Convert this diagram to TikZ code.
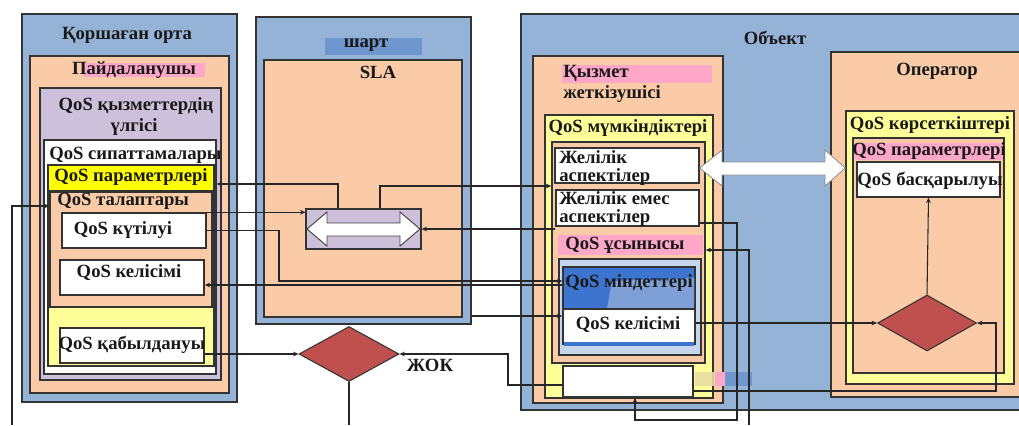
\documentclass[tikz,border=0pt]{standalone}
\usepackage{fontspec}
\setmainfont{Liberation Serif}
\usetikzlibrary{shapes.geometric,arrows.meta,fit}
\definecolor{bl}{HTML}{95B3D7}
\definecolor{pe}{HTML}{FACBA6}
\definecolor{lav}{HTML}{CCC0DA}
\definecolor{ly}{HTML}{FFFF99}
\definecolor{yy}{HTML}{FFFF00}
\definecolor{pk}{HTML}{FFA7C8}
\definecolor{rd}{HTML}{C0504D}
\definecolor{lb}{HTML}{C6D6EC}
\definecolor{db}{HTML}{3C74CF}
\definecolor{mb}{HTML}{7FA0D6}
\definecolor{hb}{HTML}{6F96CD}
\definecolor{kh}{HTML}{E6DDA0}
\begin{document}
\begin{tikzpicture}[x=0.75pt,y=-0.75pt,
  box/.style={draw=black!80,line width=1.1pt,inner sep=0pt},
  hl/.style={draw=none,inner sep=0pt},
  lbl/.style={font=\fontsize{14}{16}\selectfont\bfseries,inner sep=0pt,text=black!90},
  lbll/.style={lbl,anchor=west},
  reg/.style={lbl,anchor=west},
  conn/.style={draw=black!85,line width=0.8pt,-{Stealth[length=4pt,width=3.5pt]}},
  plain/.style={draw=black!85,line width=0.8pt},
  dia/.style={diamond,draw=black!80,fill=rd,line width=0.8pt,inner sep=0pt}]
\clip (0,0) rectangle (1019,425);
\fill[white] (0,0) rectangle (1019,425);

% ---------- left column
\node[box,fill=bl,fit={(22,14)(237,402)}] (env) {};
\node[lbl] (tenv) at (127,35) {Қоршаған орта};
\node[box,fill=pe,fit={(30,56)(229,393)}] (user) {};
\node[hl,fill=pk,fit={(83,63)(205,77)}] (huser) {};
\node[lbl] (tuser) at (134,70) {Пайдаланушы};
\node[box,fill=lav,fit={(40,88)(221,380)}] (model) {};
\node[lbl] (tmodel1) at (136,106) {QoS қызметтердің};
\node[lbl] (tmodel2) at (134,127) {үлгісі};
\node[box,fill=white,fit={(44,140)(216,374)}] (char) {};
\node[lbll] (tchar) at (49,155) {QoS сипаттамалары};
\node[box,fill=ly,fit={(48,165)(214,366)}] (param) {};
\node[box,fill=yy,fit={(48,165)(214,191)}] (paramh) {};
\node[lbl] (tparam) at (131,177) {QoS параметрлері};
\node[box,fill=pe,fit={(50,192)(212,307)}] (req) {};
\node[lbll] (treq) at (57,201) {QoS талаптары};
\node[box,fill=white,fit={(62,213)(206,248)}] (expect) {};
\node[lbl] (texpect) at (123,230) {QoS күтілуі};
\node[box,fill=white,fit={(60,260)(204,295)}] (agree) {};
\node[lbl] (tagree) at (129,273) {QoS келісімі};
\node[box,fill=white,fit={(60,328)(204,363)}] (accept) {};
\node[lbl] (taccept) at (132,345) {QoS қабылдануы};

% ---------- middle column
\node[box,fill=bl,fit={(256,17)(471,324)}] (contract) {};
\node[hl,fill=hb,fit={(325,38)(422,55)}] (hcontract) {};
\node[lbl] (tcontract) at (366,45) {шарт};
\node[box,fill=pe,fit={(264,60)(462,317)}] (sla) {};
\node[lbl] (tsla) at (378,72) {SLA};
\node[box,fill=lav,line width=0.9pt,fit={(306,209)(421,249)}] (xbox) {};
\draw[fill=white,draw=black!75,line width=0.7pt]
  (307,229) -- (327,212) -- (327,223) -- (400,223) -- (400,212) -- (420,229)
  -- (400,246) -- (400,236) -- (327,236) -- (327,246) -- cycle;
\node[dia,minimum width=100*0.75pt,minimum height=55*0.75pt] (dia1) at (349,354) {};
\node[lbl] (tno) at (430,365) {ЖОК};

% ---------- right: object
\node[box,fill=bl,fit={(521,14)(1040,410)}] (obj) {};
\node[lbl] (tobj) at (775,38) {Объект};
\node[box,fill=pe,fit={(533,56)(723,403)}] (prov) {};
\node[hl,fill=pk,fit={(562,65)(712,83)}] (hprov) {};
\node[lbll] (tprov1) at (563,73) {Қызмет};
\node[lbll] (tprov2) at (563,94) {жеткізушісі};
\node[box,fill=ly,fit={(545,115)(713,398)}] (cap) {};
\node[lbl] (tcap) at (628,128) {QoS мүмкіндіктері};
\node[box,fill=pe,fit={(552,142)(705,363)}] (capin) {};
\node[box,fill=white,fit={(555,148)(699,183)}] (net) {};
\node[reg] (tnet1) at (559,157) {Желілік};
\node[reg] (tnet2) at (559,177) {аспектілер};
\node[box,fill=white,fit={(556,190)(699,226)}] (nonnet) {};
\node[reg] (tnon1) at (559,198) {Желілік емес};
\node[reg] (tnon2) at (559,218) {аспектілер};
\node[hl,fill=pk,fit={(558,235)(703,255)}] (offer) {};
\node[lbll] (toffer) at (565,245) {QoS ұсынысы};
\node[box,fill=lb,fit={(559,259)(701,355)}] (obout) {};
\node[box,fill=db,fit={(563,267)(695,309)}] (oblig) {};
\fill[mb] (607,308) -- (612,281) -- (694,278) -- (694,308) -- cycle;
\node[lbl] (toblig) at (629,283) {QoS міндеттері};
\node[box,fill=white,fit={(563,309)(695,344)}] (agree2) {};
\fill[db] (564,342) rectangle (694,346);
\node[lbl] (tagree2) at (628,325) {QoS келісімі};
\node[box,fill=white,fit={(563,366)(693,397)}] (empty) {};
\fill[kh,opacity=0.9] (695,372) rectangle (715,386);
\fill[pk] (715,372) rectangle (725,386);
\fill[hb] (725,372) rectangle (752,386);

\node[box,fill=pe,fit={(831,52)(1040,397)}] (op) {};
\node[lbl] (top) at (937,71) {Оператор};
\node[box,fill=ly,fit={(846,111)(1014,384)}] (ind) {};
\node[lbl] (tind) at (930,125) {QoS көрсеткіштері};
\node[box,fill=pe,fit={(853,138)(1004,373)}] (opparam) {};
\node[hl,fill=pk,fit={(855,143)(1003,160)}] (hopparam) {};
\node[lbl] (topparam) at (929,151) {QoS параметрлері};
\node[box,fill=white,fit={(857,162)(1000,197)}] (ctrl) {};
\node[lbl] (tctrl) at (930,181) {QoS басқарылуы};
\node[dia,minimum width=99*0.75pt,minimum height=56*0.75pt] (dia2) at (927,323) {};

% big double arrow
\draw[fill=white,draw=black!45,line width=0.6pt]
  (net.east |- 0,168) -- (722,150) -- (722,162) -- (825,162) -- (825,150) -- (ind.west |- 0,168)
  -- (825,186) -- (825,175) -- (722,175) -- (722,186) -- cycle;

% ---------- connectors
\coordinate (c1) at (12,425);
\coordinate (c2) at (349,425);
\coordinate (c3) at (749,425);
\draw[conn] (c1) |- (req.west |- 0,206);
\draw[conn] (xbox.north -| 380,0) |- (capin.west |- 0,186);
\draw[conn] (xbox.north -| 338,0) |- (char.east |- 0,184);
\draw[conn] (expect.north east) -- (xbox.west |- expect.north east);
\draw[conn] (expect.east) -- (expect.east -| 279,0) |- (oblig.west |- 0,281);
\draw[conn] (oblig.west |- 0,285) -- (agree.east |- 0,285);
\draw[conn] (nonnet.south west |- 0,229) -- (xbox.east);
\draw[conn] (contract.east |- 0,316) -- (agree2.west |- 0,316);
\draw[conn] (accept.east |- dia1.west) -- (dia1.west);
\draw[conn] (empty.west |- 0,385) -- (508,385) |- (dia1.east);
\draw[plain] (dia1.south) -- (c2);
\draw[conn] (nonnet.east |- 0,223) -| (737,420) -| (empty.south -| 635,0);
\draw[conn] (c3) |- (capin.east |- 0,250);
\draw[conn] (agree2.east |- dia2.west) -- (dia2.west);
\draw[conn] (empty.east |- 0,391) -- (996,391) |- (dia2.east);
\draw[conn] (dia2.north) -- (ctrl.south);
\end{tikzpicture}
\end{document}
